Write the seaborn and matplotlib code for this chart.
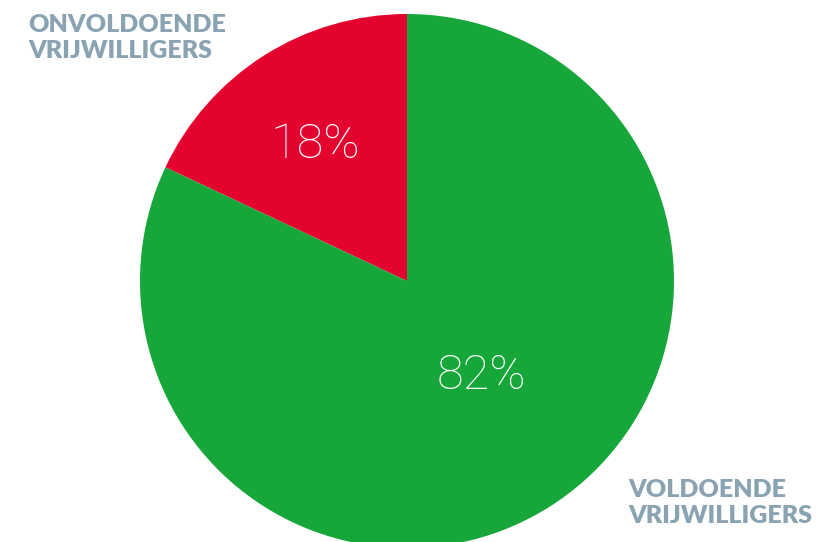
import matplotlib.pyplot as plt
import seaborn as sns

sns.set_theme(style="white")
plt.rcParams['font.family'] = ['Lato', 'DejaVu Sans']

# data
labels = ['ONVOLDOENDE\nVRIJWILLIGERS', 'VOLDOENDE\nVRIJWILLIGERS']
values = [18, 82]
pct_labels = ['18%', '82%']
colors = ['#e4032e', '#17a63a']

W, H = 824, 542
fig = plt.figure(figsize=(W / 100, H / 100), dpi=100)
cx, cy, r = 407, 281, 267
ax = fig.add_axes([(cx - r) / W, (H - cy - r) / H, 2 * r / W, 2 * r / H])

wedges, _ = ax.pie(values, colors=colors, startangle=90, counterclock=True,
                   radius=1, wedgeprops=dict(linewidth=0))
ax.set_xlim(-1, 1)
ax.set_ylim(-1, 1)
ax.set_aspect('equal')
ax.axis('off')

# percentage labels inside slices
pct_font = dict(color='white', fontsize=35, family=['Roboto', 'DejaVu Sans'],
                fontweight='light', ha='center', va='center')
ax.text(-0.345, 0.51, pct_labels[0], **pct_font)
ax.text(0.28, -0.355, pct_labels[1], **pct_font)

# category labels
label_color = '#8aa3b3'
fig.text(28 / W, 1 - 14 / H, labels[0], color=label_color, fontsize=18,
         fontweight='heavy', ha='left', va='top', linespacing=1.2)
fig.text(628 / W, 1 - 479 / H, labels[1], color=label_color, fontsize=18,
         fontweight='heavy', ha='left', va='top', linespacing=1.2)

fig.savefig('out.png', dpi=100)
